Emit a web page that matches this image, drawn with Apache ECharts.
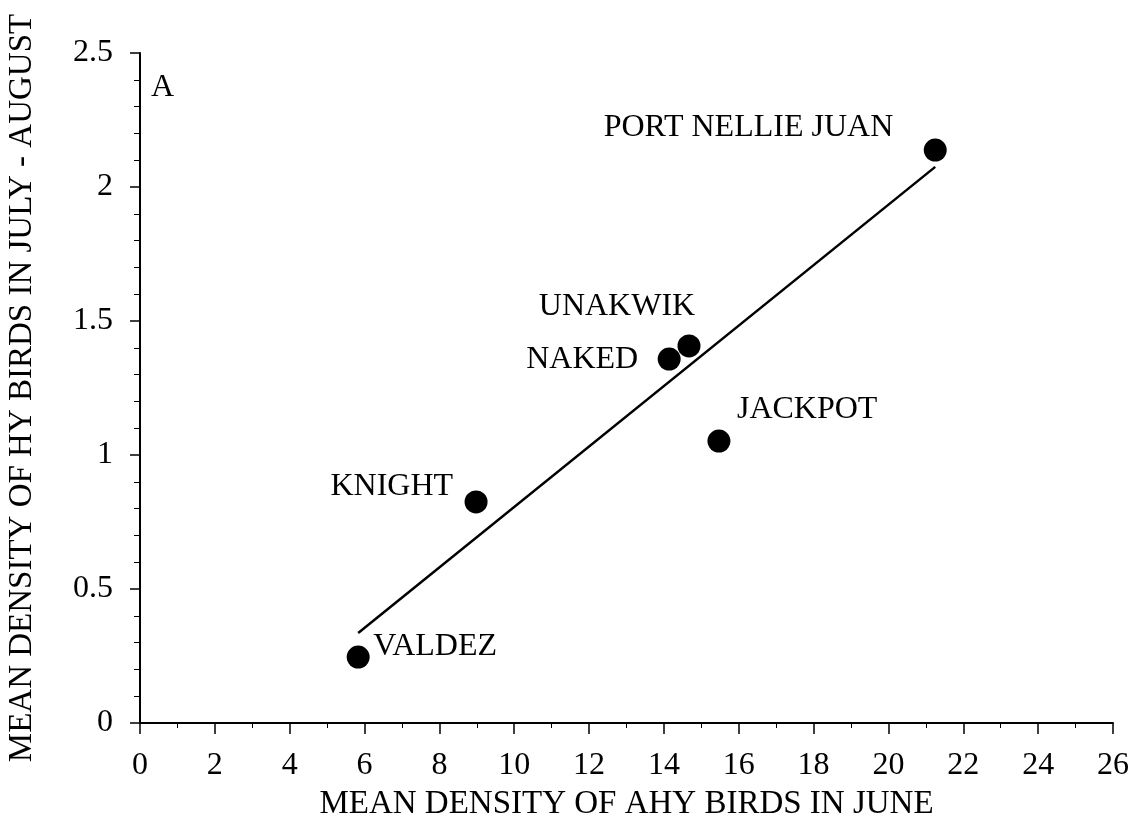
<!DOCTYPE html>
<html>
<head>
<meta charset="utf-8">
<script src="https://cdn.jsdelivr.net/npm/echarts@6/dist/echarts.min.js"></script>
<style>
  html, body { margin: 0; padding: 0; background: #fff; }
  #chart { width: 1134px; height: 821px; }
</style>
</head>
<body>
<div id="chart"></div>
<script>
// Site names and mean densities
const sites = ['PORT NELLIE JUAN', 'UNAKWIK', 'NAKED', 'JACKPOT', 'KNIGHT', 'VALDEZ'];
const ahyJune = [21.25, 14.67, 14.14, 15.47, 8.98, 5.83];
const hyJulyAug = [2.138, 1.407, 1.358, 1.052, 0.825, 0.246];

// Ends of the fitted line
const fitX = [5.83, 21.25];
const fitY = [0.336, 2.075];

const xTicks = [0, 2, 4, 6, 8, 10, 12, 14, 16, 18, 20, 22, 24, 26];
const yTicks = [0, 0.5, 1, 1.5, 2, 2.5];

const FONT = '"Liberation Serif", "DejaVu Serif", serif';
const INK = '#000';

// Where each site's name sits relative to its dot
const labelPlacement = {
  'PORT NELLIE JUAN': { align: 'right', offset: [-42, -22] },
  'UNAKWIK':          { align: 'center', offset: [-72, -39] },
  'NAKED':            { align: 'right', offset: [-31, 1] },
  'JACKPOT':          { align: 'left', offset: [18, -31] },
  'KNIGHT':           { align: 'right', offset: [-23, -15] },
  'VALDEZ':           { align: 'left', offset: [15, -10] }
};

const points = sites.map((name, i) => {
  const p = labelPlacement[name];
  return {
    name: name,
    value: [ahyJune[i], hyJulyAug[i]],
    label: {
      show: true,
      position: 'inside',
      formatter: name,
      align: p.align,
      verticalAlign: 'middle',
      offset: p.offset,
      color: INK,
      fontFamily: FONT,
      fontSize: 32
    }
  };
});

const chart = echarts.init(document.getElementById('chart'), null, { renderer: 'canvas' });

chart.setOption({
  animation: false,
  backgroundColor: '#fff',
  grid: { left: 140, right: 21, top: 53, bottom: 98, containLabel: false, outerBoundsMode: 'none' },
  xAxis: {
    type: 'value',
    min: xTicks[0],
    max: xTicks[xTicks.length - 1],
    interval: 2,
    name: 'MEAN DENSITY OF AHY BIRDS IN JUNE',
    nameLocation: 'middle',
    nameGap: 65,
    nameMoveOverlap: false,
    nameTextStyle: { color: INK, fontFamily: FONT, fontSize: 33 },
    axisLine: { show: true, onZero: false, lineStyle: { color: INK, width: 2 } },
    axisTick: { show: true, inside: false, length: 11, lineStyle: { color: INK, width: 1.5 } },
    minorTick: { show: true, splitNumber: 2, length: 5, lineStyle: { color: INK, width: 1 } },
    axisLabel: { color: INK, fontFamily: FONT, fontSize: 32, margin: 27 },
    splitLine: { show: false }
  },
  yAxis: {
    type: 'value',
    min: yTicks[0],
    max: yTicks[yTicks.length - 1],
    interval: 0.5,
    name: 'MEAN DENSITY OF HY BIRDS IN JULY - AUGUST',
    nameLocation: 'middle',
    nameGap: 101,
    nameMoveOverlap: false,
    nameTextStyle: { color: INK, fontFamily: FONT, fontSize: 33 },
    axisLine: { show: true, onZero: false, lineStyle: { color: INK, width: 2 } },
    axisTick: { show: true, inside: false, length: 10, lineStyle: { color: INK, width: 1.5 } },
    minorTick: { show: true, splitNumber: 5, length: 6, lineStyle: { color: INK, width: 1 } },
    axisLabel: { color: INK, fontFamily: FONT, fontSize: 32, margin: 27 },
    splitLine: { show: false }
  },
  graphic: [{
    type: 'text',
    x: 151,
    y: 88,
    style: { text: 'A', fill: INK, font: '32px ' + FONT, textVerticalAlign: 'middle' }
  }],
  series: [
    {
      type: 'line',
      data: fitX.map((x, i) => [x, fitY[i]]),
      showSymbol: false,
      symbol: 'none',
      lineStyle: { color: INK, width: 2.5 },
      z: 2
    },
    {
      type: 'scatter',
      data: points,
      symbol: 'circle',
      symbolSize: 23,
      itemStyle: { color: INK, opacity: 1 },
      z: 3
    }
  ]
});
</script>
</body>
</html>
